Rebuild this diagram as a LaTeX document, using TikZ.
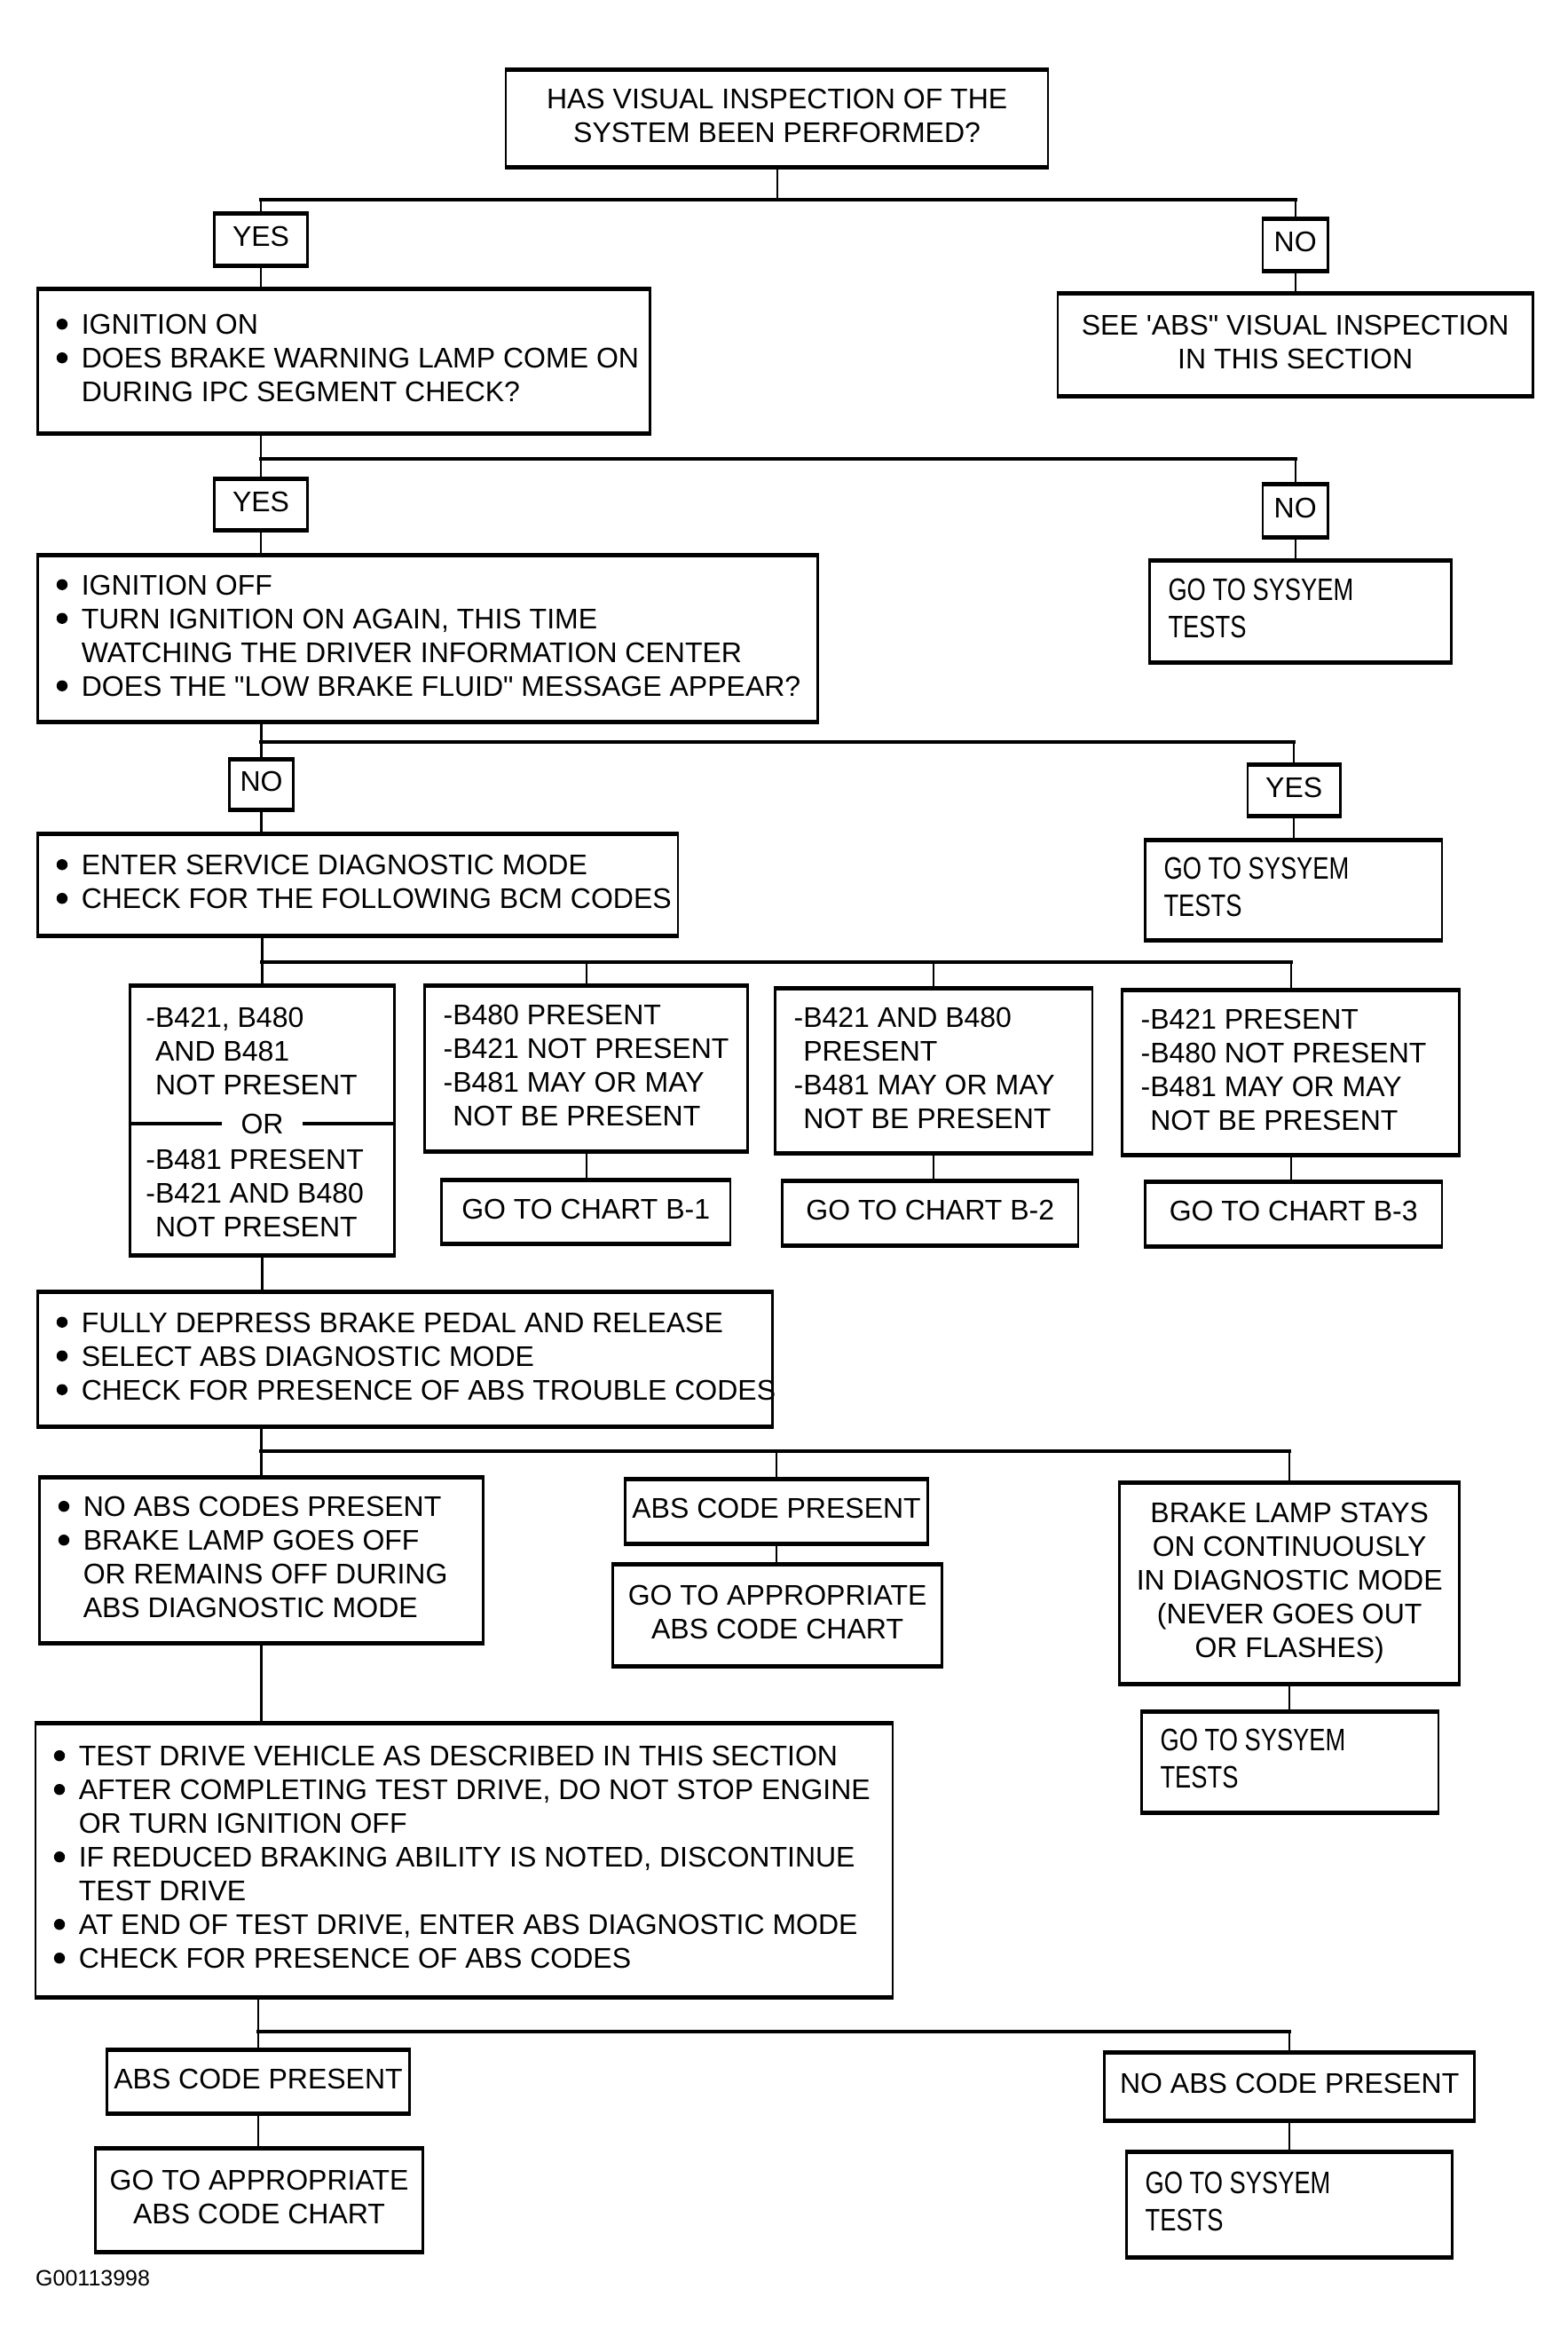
\documentclass[tikz,border=0pt]{standalone}
\usepackage{fontspec}
\newfontfamily\plf{Liberation Sans}
\newfontfamily\nrf[FakeStretch=0.78]{Liberation Sans}
\newcommand\bl{\makebox[14pt][l]{\tikz[x=1pt,y=1pt,baseline=0pt]\fill (3.3pt,5.7pt) circle[radius=3.1pt];}}
\newcommand\ind{\hspace*{14pt}}
\newcommand\mkboxC[7]{%
  \pgfmathsetmacro\cx{(#2+#4)/2}\pgfmathsetmacro\cy{(#3+#5)/2}%
  \pgfmathsetmacro\ww{(#4-#2)*0.4975}\pgfmathsetmacro\hh{(#5-#3)/2}%
  \node[box,#6,minimum width=\ww pt,minimum height=\hh pt] (#1) at (\cx,\cy)
    {\raisebox{-1.2pt}{\begin{tabular}{@{}c@{}}#7\end{tabular}}};}
\newcommand\mkboxL[7]{%
  \pgfmathsetmacro\cx{(#2+#4)/2}\pgfmathsetmacro\cy{(#3+#5)/2}%
  \pgfmathsetmacro\ww{(#4-#2)*0.4975}\pgfmathsetmacro\hh{(#5-#3)/2}%
  \node[box,#6,minimum width=\ww pt,minimum height=\hh pt] (#1) at (\cx,\cy)
    {\makebox[\ww pt][l]{\hspace*{10.5pt}\raisebox{-1.2pt}{\begin{tabular}{@{}l@{}}#7\end{tabular}}}};}
\begin{document}
\begin{tikzpicture}[x=0.4975pt,y=-0.5pt,
  box/.style={draw,line width=1.3pt,inner sep=0pt,font=\plf\fontsize{16}{19}\selectfont},
  sysf/.style={font=\nrf\fontsize{17.5}{21}\selectfont},
  edge/.style={line width=2.3pt},
  conn/.style={line width=1.1pt},
  bus/.style={line width=2.2pt,line cap=rect}]
\useasboundingbox (0,0) rectangle (1775,2650);
\fill[white] (0,0) rectangle (1775,2650);

% level 1
\mkboxC{top}{573}{80}{1187}{187}{}{HAS VISUAL INSPECTION OF THE\\SYSTEM BEEN PERFORMED?}
\mkboxC{yes1}{243}{242}{348}{298}{}{YES}
\mkboxC{no1}{1430}{248}{1504}{304}{}{NO}
\mkboxL{ignon}{43}{327}{736}{487}{}{\bl IGNITION ON\\ \bl DOES BRAKE WARNING LAMP COME ON\\ \ind DURING IPC SEGMENT CHECK?}
\mkboxC{seeabs}{1198}{332}{1736}{445}{}{SEE 'ABS" VISUAL INSPECTION\\IN THIS SECTION}
% level 2
\mkboxC{yes2}{243}{541}{348}{596}{}{YES}
\mkboxC{no2}{1430}{547}{1504}{604}{}{NO}
\mkboxL{ignoff}{43}{627}{926}{812}{}{\bl IGNITION OFF\\ \bl TURN IGNITION ON AGAIN, THIS TIME\\ \ind WATCHING THE DRIVER INFORMATION CENTER\\ \bl DOES THE "LOW BRAKE FLUID" MESSAGE APPEAR?}
\mkboxL{sysa}{1302}{633}{1644}{745}{sysf}{GO TO SYSYEM\\TESTS}
% level 3
\mkboxC{no3}{260}{857}{332}{911}{}{NO}
\mkboxC{yes3}{1413}{863}{1518}{918}{}{YES}
\mkboxL{enter}{43}{941}{768}{1053}{}{\bl ENTER SERVICE DIAGNOSTIC MODE\\ \bl CHECK FOR THE FOLLOWING BCM CODES}
\mkboxL{sysb}{1297}{948}{1633}{1058}{sysf}{GO TO SYSYEM\\TESTS}
% level 4
\mkboxC{ba}{147}{1112}{447}{1413}{}{}
\mkboxL{bb}{481}{1112}{847}{1296}{}{-B480 PRESENT\\-B421 NOT PRESENT\\-B481 MAY OR MAY\\\phantom{-}NOT BE PRESENT}
\mkboxL{bc}{878}{1115}{1237}{1298}{}{-B421 AND B480\\\phantom{-}PRESENT\\-B481 MAY OR MAY\\\phantom{-}NOT BE PRESENT}
\mkboxL{bd}{1271}{1117}{1653}{1300}{}{-B421 PRESENT\\-B480 NOT PRESENT\\-B481 MAY OR MAY\\\phantom{-}NOT BE PRESENT}
\mkboxC{ca}{500}{1331}{827}{1400}{}{GO TO CHART B-1}
\mkboxC{cb}{886}{1332}{1221}{1402}{}{GO TO CHART B-2}
\mkboxC{cc}{1297}{1333}{1633}{1403}{}{GO TO CHART B-3}
\node[box,draw=none,anchor=west] (baa) at (164,1188) {\begin{tabular}{@{}l@{}}-B421, B480\\\phantom{-}AND B481\\\phantom{-}NOT PRESENT\end{tabular}};
\node[box,draw=none,anchor=west] (bab) at (164,1348) {\begin{tabular}{@{}l@{}}-B481 PRESENT\\-B421 AND B480\\\phantom{-}NOT PRESENT\end{tabular}};
\node[box,draw=none,inner xsep=10pt] (orn) at (297,1266) {OR};
\draw[line width=1.6pt] (ba.west |- orn) -- (orn.west);
\draw[line width=1.6pt] (orn.east) -- (ba.east |- orn);
% level 5
\mkboxL{fully}{43}{1457}{875}{1606}{}{\bl FULLY DEPRESS BRAKE PEDAL AND RELEASE\\ \bl SELECT ABS DIAGNOSTIC MODE\\ \bl CHECK FOR PRESENCE OF ABS TROUBLE CODES}
\mkboxL{noabs}{45}{1666}{547}{1850}{}{\bl NO ABS CODES PRESENT\\ \bl BRAKE LAMP GOES OFF\\ \ind OR REMAINS OFF DURING\\ \ind ABS DIAGNOSTIC MODE}
\mkboxC{abspa}{708}{1668}{1051}{1738}{}{ABS CODE PRESENT}
\mkboxC{goappa}{694}{1764}{1067}{1876}{}{GO TO APPROPRIATE\\ABS CODE CHART}
\mkboxC{brake}{1268}{1672}{1653}{1896}{}{BRAKE LAMP STAYS\\ON CONTINUOUSLY\\IN DIAGNOSTIC MODE\\(NEVER GOES OUT\\OR FLASHES)}
\mkboxL{sysc}{1293}{1930}{1629}{2041}{sysf}{GO TO SYSYEM\\TESTS}
% level 6
\mkboxL{test}{40}{1943}{1011}{2249}{}{\bl TEST DRIVE VEHICLE AS DESCRIBED IN THIS SECTION\\ \bl AFTER COMPLETING TEST DRIVE, DO NOT STOP ENGINE\\ \ind OR TURN IGNITION OFF\\ \bl IF REDUCED BRAKING ABILITY IS NOTED, DISCONTINUE\\ \ind TEST DRIVE\\ \bl AT END OF TEST DRIVE, ENTER ABS DIAGNOSTIC MODE\\ \bl CHECK FOR PRESENCE OF ABS CODES}
\mkboxC{abspb}{121}{2311}{464}{2380}{}{ABS CODE PRESENT}
\mkboxC{noabsp}{1251}{2314}{1670}{2388}{}{NO ABS CODE PRESENT}
\mkboxC{goappb}{108}{2422}{479}{2536}{}{GO TO APPROPRIATE\\ABS CODE CHART}
\mkboxL{sysd}{1276}{2426}{1645}{2542}{sysf}{GO TO SYSYEM\\TESTS}

\node[font=\plf\fontsize{12.5}{14}\selectfont,anchor=base west,inner sep=0pt] (lbl) at (40,2575) {G00113998};

% thick top and bottom edges
\foreach \n in {top,yes1,no1,ignon,seeabs,yes2,no2,ignoff,sysa,no3,yes3,enter,sysb,ba,bb,bc,bd,ca,cb,cc,fully,noabs,abspa,goappa,brake,sysc,test,abspb,noabsp,goappb,sysd}
  \draw[edge] (\n.north west) -- (\n.north east) (\n.south west) -- (\n.south east);

% bus heights
\coordinate (h1) at (0,225);
\coordinate (h2) at (0,517);
\coordinate (h3) at (0,836);
\coordinate (h4) at (0,1084);
\coordinate (h5) at (0,1635);
\coordinate (h6) at (0,2289);

% connectors 1
\draw[conn] (top.south) -- (top.south |- h1);
\draw[bus] (yes1.north |- h1) -- (no1.north |- h1);
\draw[conn] (yes1.north |- h1) -- (yes1.north);
\draw[conn] (no1.north |- h1) -- (no1.north);
\draw[conn] (yes1.south) -- (yes1.south |- ignon.north);
\draw[conn] (no1.south) -- (no1.south |- seeabs.north);
% connectors 2
\draw[conn] (yes2.north |- ignon.south) -- (yes2.north |- h2);
\draw[bus] (yes2.north |- h2) -- (no2.north |- h2);
\draw[conn] (yes2.north |- h2) -- (yes2.north);
\draw[conn] (no2.north |- h2) -- (no2.north);
\draw[conn] (yes2.south) -- (yes2.south |- ignoff.north);
\draw[conn] (no2.south) -- (no2.south |- sysa.north);
% connectors 3
\draw[conn] (no3.north |- ignoff.south) -- (no3.north |- h3);
\draw[bus] (no3.north |- h3) -- (yes3.north |- h3);
\draw[conn] (no3.north |- h3) -- (no3.north);
\draw[conn] (yes3.north |- h3) -- (yes3.north);
\draw[conn] (no3.south) -- (no3.south |- enter.north);
\draw[conn] (yes3.south) -- (yes3.south |- sysb.north);
% connectors 4
\draw[conn] (ba.north |- enter.south) -- (ba.north |- h4);
\draw[bus] (ba.north |- h4) -- (bd.north |- h4);
\foreach \n in {ba,bb,bc,bd} \draw[conn] (\n.north |- h4) -- (\n.north);
\draw[conn] (bb.south) -- (bb.south |- ca.north);
\draw[conn] (bc.south) -- (bc.south |- cb.north);
\draw[conn] (bd.south) -- (bd.south |- cc.north);
\draw[conn] (ba.south) -- (ba.south |- fully.north);
% connectors 5
\draw[conn] (noabs.north |- fully.south) -- (noabs.north |- h5);
\draw[bus] (noabs.north |- h5) -- (brake.north |- h5);
\foreach \n in {noabs,abspa,brake} \draw[conn] (\n.north |- h5) -- (\n.north);
\draw[conn] (abspa.south) -- (abspa.south |- goappa.north);
\draw[conn] (brake.south) -- (brake.south |- sysc.north);
\draw[conn] (noabs.south) -- (noabs.south |- test.north);
% connectors 6
\draw[conn] (abspb.north |- test.south) -- (abspb.north |- h6);
\draw[bus] (abspb.north |- h6) -- (noabsp.north |- h6);
\foreach \n in {abspb,noabsp} \draw[conn] (\n.north |- h6) -- (\n.north);
\draw[conn] (abspb.south) -- (abspb.south |- goappb.north);
\draw[conn] (noabsp.south) -- (noabsp.south |- sysd.north);
\end{tikzpicture}
\end{document}
